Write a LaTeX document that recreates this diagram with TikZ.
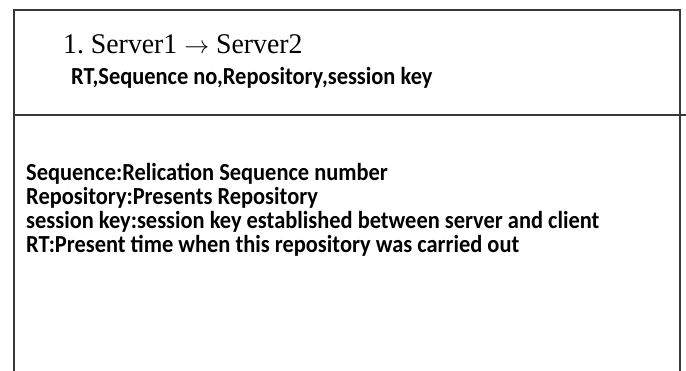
\documentclass[tikz,border=0pt]{standalone}
\usepackage{fontspec}
\setmainfont{Liberation Serif}
\newfontfamily\headfont[FakeStretch=0.975]{Liberation Serif}
\newfontfamily\labelfont[FakeStretch=0.915]{Carlito Bold}
\begin{document}
\begin{tikzpicture}[x=1pt,y=-1pt,
  frame/.style={draw=black!78,line width=1.5pt},
  title/.style={anchor=base west,inner sep=0pt,font=\headfont\frenchspacing\fontsize{28.5}{30}\selectfont},
  fieldtext/.style={anchor=base west,inner sep=0pt,font=\labelfont\fontsize{24.5}{26}\selectfont}]
  \useasboundingbox (0,0) rectangle (686,371);
  % outer frame and the message separator
  \coordinate (tl) at (14,10);
  \coordinate (tr) at (680,10);
  \coordinate (bl) at (14,371);
  \coordinate (br) at (680,371);
  \coordinate (sepL) at (14,115);
  \coordinate (sepR) at (686,115);
  \draw[frame] (bl) -- (tl) -- (tr) -- (br);
  \draw[frame] (sepL) -- (sepR);
  % message header
  \node[title] (msg) at (63,54) {1. Server1 $\rightarrow$ Server2};
  \node[fieldtext] (fields) at (71,85) {RT,Sequence no,Repository,session key};
  % field descriptions
  \node[fieldtext] (d1) at (26,181) {Sequence:Relication Sequence number};
  \node[fieldtext] (d2) at (26,205) {Repository:Presents Repository};
  \node[fieldtext] (d3) at (26,229) {session key:session key established between server and client};
  \node[fieldtext] (d4) at (26,253) {RT:Present time when this repository was carried out};
\end{tikzpicture}
\end{document}
